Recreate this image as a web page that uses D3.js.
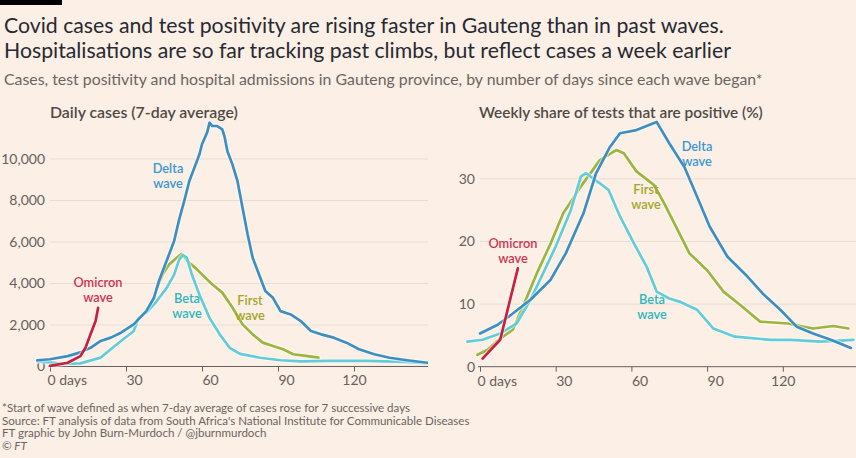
<!DOCTYPE html>
<html>
<head>
<meta charset="utf-8">
<script src="https://cdn.jsdelivr.net/npm/d3@7/dist/d3.min.js"></script>
<style>
  html, body { margin: 0; padding: 0; background: #fcefe5; }
  svg { display: block; font-family: Lato, "Open Sans", sans-serif; }
</style>
</head>
<body>
<svg id="chart" width="856" height="458"></svg>
<script>
// ---------- DATA ----------
const titleLines = [
  "Covid cases and test positivity are rising faster in Gauteng than in past waves.",
  "Hospitalisations are so far tracking past climbs, but reflect cases a week earlier"
];
const subtitle = "Cases, test positivity and hospital admissions in Gauteng province, by number of days since each wave began*";
const footerLines = [
  "*Start of wave defined as when 7-day average of cases rose for 7 successive days",
  "Source: FT analysis of data from South Africa's National Institute for Communicable Diseases",
  "FT graphic by John Burn-Murdoch / @jburnmurdoch",
  "© FT"
];
const panelTitles = ["Daily cases (7-day average)", "Weekly share of tests that are positive (%)"];

const xTicks = [0, 30, 60, 90, 120];
const casesTicks = [0, 2000, 4000, 6000, 8000, 10000];
const posTicks = [0, 10, 20, 30];

// Daily cases (7-day average)
const deltaCasesDay = [-5,0,7,12,16,20,24,28,33,38,41,43,46,49,51,53,55,57,59,60,62,63,64,66,68,69,70,72,74,76,78,80,83,85,88,91,95,99,103,107,112,117,122,128,134,141,149];
const deltaCases    = [300,350,500,680,900,1230,1390,1630,2030,2670,3300,4120,5080,6050,7090,7980,8940,9580,10230,10710,11270,11750,11590,11590,11430,11030,10390,9740,8940,7650,6370,5240,4280,3640,3310,2670,2510,2190,1710,1550,1390,1150,830,590,420,300,180];

const betaCasesDay = [-5,0,5,12,20,28,33,35,38,42,46,49,51,52.5,54,56,59,63,67,71,75,83,91,99,110,125,140,149];
const betaCases    = [250,200,130,150,430,1230,1700,2340,2590,3130,3780,4430,5150,5370,5250,4430,3460,2330,1550,890,610,420,300,250,270,270,220,150];

const firstCasesDay = [42,44.5,47,50,52,55,58,60,64,68,72,76,80,84,88,92,96,101,106];
const firstCases    = [3720,4440,4920,5240,5430,5000,4680,4440,3960,3560,2840,2030,1550,1150,990,830,590,510,430];

const omicronCasesDay = [0,7,12,14,16,18,19];
const omicronCases    = [30,180,500,900,1550,2190,2830];

// Weekly test positivity (%)
const deltaPosDay = [0,7,13,20,28,34,41,46,51.5,55.5,62,70,75,81,86,91,98,106,112,119,125.5,132,139,147];
const deltaPos    = [5.3,6.7,8.5,10.7,13.9,18.1,24.5,30.9,35.1,37.3,37.8,39.1,35.7,31.9,27.2,22.4,17.6,14.4,11.7,9.1,6.4,5.3,4.3,3.0];

const firstPosDay = [-1,3,8,13,17,22.5,28,33,40,47.5,54,57,62,69,73,83,90,96.5,103,111,122,132,140,146];
const firstPos    = [1.9,2.7,4.5,5.9,9.6,14.9,19.7,24.5,28.8,33.0,34.6,34.1,31.2,29.0,26.1,18.1,15.4,12.0,9.9,7.2,6.9,6.1,6.5,6.1];

const betaPosDay = [-5,1,8,14.5,20,25,30,36,40,42,47.5,51,55.5,61,66,70,75,79,86,92.5,101,115,123,135,148];
const betaPos    = [4.0,4.3,5.3,6.9,10.7,14.9,19.2,25.0,30.4,30.9,29.3,28.2,24.0,19.7,16.0,12.0,10.9,10.4,9.1,6.1,4.8,4.3,4.3,4.0,4.3];

const omicronPosDay = [1,8,15];
const omicronPos    = [1.3,4.3,15.7];

// ---------- STYLE ----------
const C = {
  bg: "#fcefe5", grid: "#e9ddd2", axis: "#66605c", tick: "#66605c",
  title: "#262a33", sub: "#6b6561", panel: "#4f4a47",
  delta: "#3d8fc1", beta: "#62cdd9", first: "#9bb53f", omicron: "#c8203e",
  deltaT: "#3b97d3", betaT: "#2cb6c0", firstT: "#a2a52e", omicronT: "#cc3450"
};

const svg = d3.select("#chart");
svg.append("rect").attr("width", 856).attr("height", 458).attr("fill", C.bg);
svg.append("rect").attr("x", 0).attr("y", 0).attr("width", 62).attr("height", 5).attr("fill", "#000");

function fit(sel, target) {
  const w = sel.node().getComputedTextLength();
  const fs = parseFloat(sel.attr("font-size"));
  sel.attr("font-size", (fs * target / w).toFixed(2));
  return sel;
}

// titles
const t1 = svg.append("text").attr("x", 4).attr("y", 33).attr("font-size", 20)
  .attr("fill", C.title).text(titleLines[0]);
fit(t1, 720);
svg.append("text").attr("x", 4).attr("y", 58).attr("font-size", t1.attr("font-size"))
  .attr("fill", C.title).text(titleLines[1]);

const st = svg.append("text").attr("x", 4).attr("y", 85).attr("font-size", 14)
  .attr("fill", C.sub).text(subtitle);
fit(st, 759);

// footer
const footerY = [412, 425, 437, 450];
const footerSel = footerLines.map((s, i) => {
  const t = svg.append("text").attr("x", 2).attr("y", footerY[i]).attr("font-size", 11.5)
    .attr("fill", C.sub).text(s);
  if (i === 3) t.attr("font-style", "italic");
  return t;
});
(function(){
  const w = footerSel[1].node().getComputedTextLength();
  const k = 468 / w;
  footerSel.forEach(t => t.attr("font-size", (11.5 * k).toFixed(2)));
})();

// ---------- PANELS ----------
function panel(opts) {
  const g = svg.append("g");
  const x = d3.scaleLinear().domain([0, 150]).range(opts.xr);
  const y = d3.scaleLinear().domain(opts.yd).range(opts.yr);

  // panel title
  const pt = g.append("text").attr("x", opts.titleX).attr("y", 118).attr("font-size", 14)
    .attr("fill", C.panel).attr("font-weight", 600).text(opts.title);
  fit(pt, opts.titleW);

  // gridlines
  g.selectAll("line.grid").data(opts.yTicks.filter(d => d > 0)).join("line")
    .attr("x1", opts.gridX[0]).attr("x2", opts.gridX[1])
    .attr("y1", d => y(d)).attr("y2", d => y(d))
    .attr("stroke", C.grid).attr("stroke-width", 1);

  // y labels
  const yAxis = d3.axisLeft(y).tickValues(opts.yTicks).tickSize(0).tickPadding(0)
    .tickFormat(opts.yFmt);
  const ya = g.append("g").attr("transform", `translate(${opts.yLabelX},0)`).call(yAxis);
  ya.select(".domain").remove();
  ya.selectAll("text").attr("font-size", 14).attr("fill", C.tick).attr("font-family", "Lato, sans-serif");

  // x axis
  const xAxis = d3.axisBottom(x).tickValues(xTicks).tickSize(5).tickPadding(4)
    .tickFormat(d => d === 0 ? "0 days" : d);
  const xa = g.append("g").attr("transform", `translate(0,${opts.yr[0]})`).call(xAxis);
  xa.select(".domain").attr("d", `M${opts.gridX[0] - 2},0H${opts.gridX[1]}`).attr("stroke", C.axis);
  xa.selectAll(".tick line").attr("stroke", C.axis);
  xa.selectAll("text").attr("font-size", 14).attr("fill", C.tick)
    .attr("font-family", "Lato, sans-serif")
    .attr("text-anchor", d => d === 120 ? "middle" : "start")
    .attr("dx", d => d === 0 ? -3 : 0);

  const line = d3.line().x(d => x(d[0])).y(d => y(d[1]));
  const clipId = "clip" + opts.id;
  g.append("clipPath").attr("id", clipId).append("rect")
    .attr("x", opts.xr[0] - 20).attr("y", 100).attr("width", opts.gridX[1] - opts.xr[0] + 20).attr("height", 300);
  const lg = g.append("g").attr("clip-path", `url(#${clipId})`);
  opts.series.forEach(s => {
    const pts = s.days.map((d, i) => [d, s.vals[i]]);
    lg.append("path").attr("d", line(pts)).attr("fill", "none")
      .attr("stroke", "#ffffff").attr("stroke-opacity", 0.5).attr("stroke-width", 4.8)
      .attr("stroke-linejoin", "round").attr("stroke-linecap", "round");
    lg.append("path").attr("d", line(pts)).attr("fill", "none")
      .attr("stroke", s.color).attr("stroke-width", 2.7)
      .attr("stroke-linejoin", "round").attr("stroke-linecap", "round");
  });

  // series labels (two separate lines)
  opts.labels.forEach(l => {
    [l.a, "wave"].forEach((s, i) => {
      g.append("text").attr("x", l.x).attr("y", l.y - 0.5 + i * 15).attr("text-anchor", "middle")
        .attr("font-size", 12.8).attr("font-weight", 600).attr("fill", l.color).text(s);
    });
  });
}

panel({
  id: "L",
  xr: [50, 430], yd: [0, 12000], yr: [366.5, 117.5],
  gridX: [50, 428], yLabelX: 45, yTicks: casesTicks,
  yFmt: d3.format(","),
  title: panelTitles[0], titleX: 50, titleW: 188,
  series: [
    { days: firstCasesDay, vals: firstCases, color: C.first },
    { days: betaCasesDay, vals: betaCases, color: C.beta },
    { days: deltaCasesDay, vals: deltaCases, color: C.delta },
    { days: omicronCasesDay, vals: omicronCases, color: C.omicron }
  ],
  labels: [
    { x: 168, y: 173, a: "Delta", color: C.deltaT },
    { x: 98, y: 287, a: "Omicron", color: C.omicronT },
    { x: 187, y: 303, a: "Beta", color: C.betaT },
    { x: 250, y: 305, a: "First", color: C.firstT }
  ]
});

panel({
  id: "R",
  xr: [480, 858.5], yd: [0, 40], yr: [366.7, 116.3],
  gridX: [480, 856], yLabelX: 475, yTicks: posTicks,
  yFmt: d => d,
  title: panelTitles[1], titleX: 479, titleW: 284,
  series: [
    { days: firstPosDay, vals: firstPos, color: C.first },
    { days: betaPosDay, vals: betaPos, color: C.beta },
    { days: deltaPosDay, vals: deltaPos, color: C.delta },
    { days: omicronPosDay, vals: omicronPos, color: C.omicron }
  ],
  labels: [
    { x: 697, y: 151, a: "Delta", color: C.deltaT },
    { x: 646, y: 194, a: "First", color: C.firstT },
    { x: 513, y: 248, a: "Omicron", color: C.omicronT },
    { x: 652, y: 304, a: "Beta", color: C.betaT }
  ]
});
</script>
</body>
</html>
